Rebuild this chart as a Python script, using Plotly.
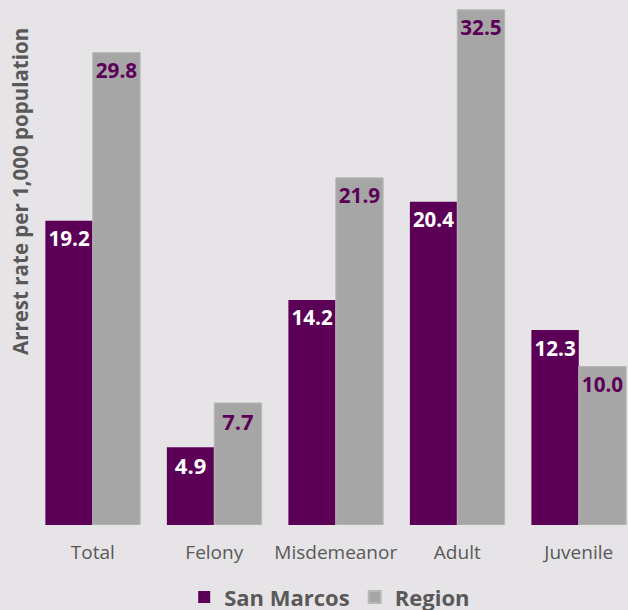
import plotly.graph_objects as go

categories = ["Total", "Felony", "Misdemeanor", "Adult", "Juvenile"]
san_marcos = [19.2, 4.9, 14.2, 20.4, 12.3]
region = [29.8, 7.7, 21.9, 32.5, 10.0]

PURPLE = "#5c0057"
GREY = "#a6a6a6"
BG = "#e6e4e6"
TXT = "#595959"
FONT = "Open Sans"

fig = go.Figure()
fig.add_trace(go.Bar(
    name="San Marcos", x=categories, y=san_marcos,
    marker=dict(color=PURPLE, line=dict(width=0)),
    text=[f"{v:.1f}" for v in san_marcos], textposition="inside",
    insidetextanchor="end", textangle=0,
    textfont=dict(family=FONT, size=22, color="white", weight="bold"),
))
fig.add_trace(go.Bar(
    name="Region", x=categories, y=region,
    marker=dict(color=GREY, line=dict(color="#b8b8b8", width=1)),
    text=[f"{v:.1f}" for v in region], textposition="inside",
    insidetextanchor="end", textangle=0,
    textfont=dict(family=FONT, size=22, color=PURPLE, weight="bold"),
))

fig.update_layout(
    width=628, height=620,
    paper_bgcolor=BG, plot_bgcolor=BG,
    margin=dict(l=32, r=0, t=0, b=95),
    barmode="group", bargap=0.22, bargroupgap=0,
    font=dict(family=FONT, color=TXT),
    showlegend=True,
    legend=dict(orientation="h", x=0.525, xanchor="center", xref="container",
                y=0.003, yanchor="bottom", yref="container",
                font=dict(family=FONT, size=22, color=TXT, weight="bold"),
                itemsizing="constant", tracegroupgap=0, itemwidth=30),
    xaxis=dict(range=[-0.5, 4.405], showgrid=False, showline=False,
               ticks="", tickfont=dict(family=FONT, size=19, color=TXT),
               ticklabelstandoff=14),
    yaxis=dict(range=[0, 33.12], visible=False, showgrid=False),
    annotations=[dict(
        text="Arrest rate per 1,000 population", textangle=-90,
        xref="paper", yref="paper", x=(20 - 32) / 596, y=(525 - 192) / 525,
        xanchor="center", yanchor="middle", showarrow=False,
        font=dict(family=FONT, size=20.5, color=TXT, weight="bold"),
    )],
)

fig.write_html("out.html", config={"displayModeBar": False},
               post_script="document.body.style.margin='0';document.body.style.overflow='hidden';")
